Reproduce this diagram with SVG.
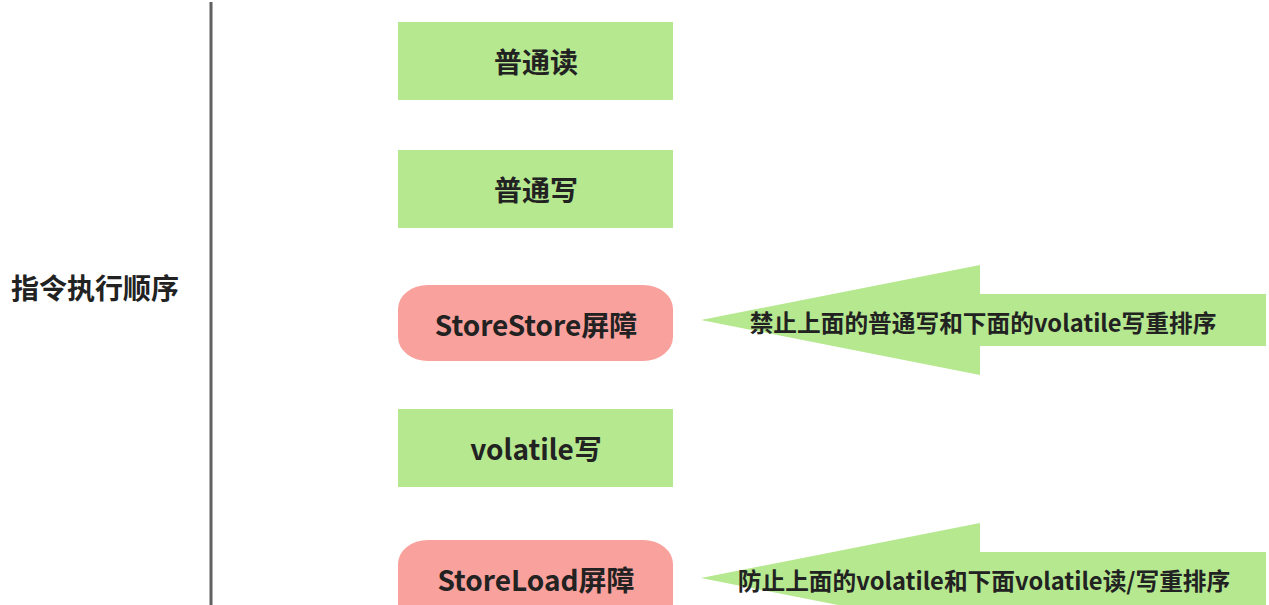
<svg xmlns="http://www.w3.org/2000/svg" width="1269" height="605" viewBox="0 0 1269 605">
<style>
.t{font-family:"Noto Sans CJK SC","Microsoft YaHei",sans-serif;font-weight:bold;fill:#222;text-anchor:middle;dominant-baseline:central}
.box{font-size:28px}
.g{fill:#b5e88f}
.r{fill:#f9a19c}
.arr{fill:#b5e88f}
.at{font-size:23.7px}
</style>
<rect width="1269" height="605" fill="#ffffff"/>
<g id="axis">
<line x1="211" y1="2" x2="211" y2="605" stroke="#606060" stroke-width="3"/>
<text class="t box" x="95" y="287">指令执行顺序</text>
</g>
<g id="n1"><rect class="g" x="398" y="22" width="275" height="78"/><text class="t box" x="536" y="61">普通读</text></g>
<g id="n2"><rect class="g" x="398" y="150" width="275" height="78"/><text class="t box" x="536" y="189">普通写</text></g>
<g id="n3"><rect class="r" x="398" y="285" width="275" height="76" rx="30" ry="24"/><text class="t box" x="536" y="324">StoreStore屏障</text></g>
<g id="n4"><rect class="g" x="398" y="409" width="275" height="78"/><text class="t box" x="536" y="448">volatile写</text></g>
<g id="n5"><rect class="r" x="398" y="540" width="275" height="90" rx="30" ry="24"/><text class="t box" x="536" y="579">StoreLoad屏障</text></g>
<g id="connectors">
<g id="a1"><polygon class="arr" points="701,320 980,265 980,294 1266,294 1266,346 980,346 980,375"/><text class="t at" x="983" y="322">禁止上面的普通写和下面的volatile写重排序</text></g>
<g id="a2"><polygon class="arr" points="701,578 980,523 980,552 1266,552 1266,620 980,620 980,633"/><text class="t at" x="984" y="580">防止上面的volatile和下面volatile读/写重排序</text></g>
</g>
</svg>
